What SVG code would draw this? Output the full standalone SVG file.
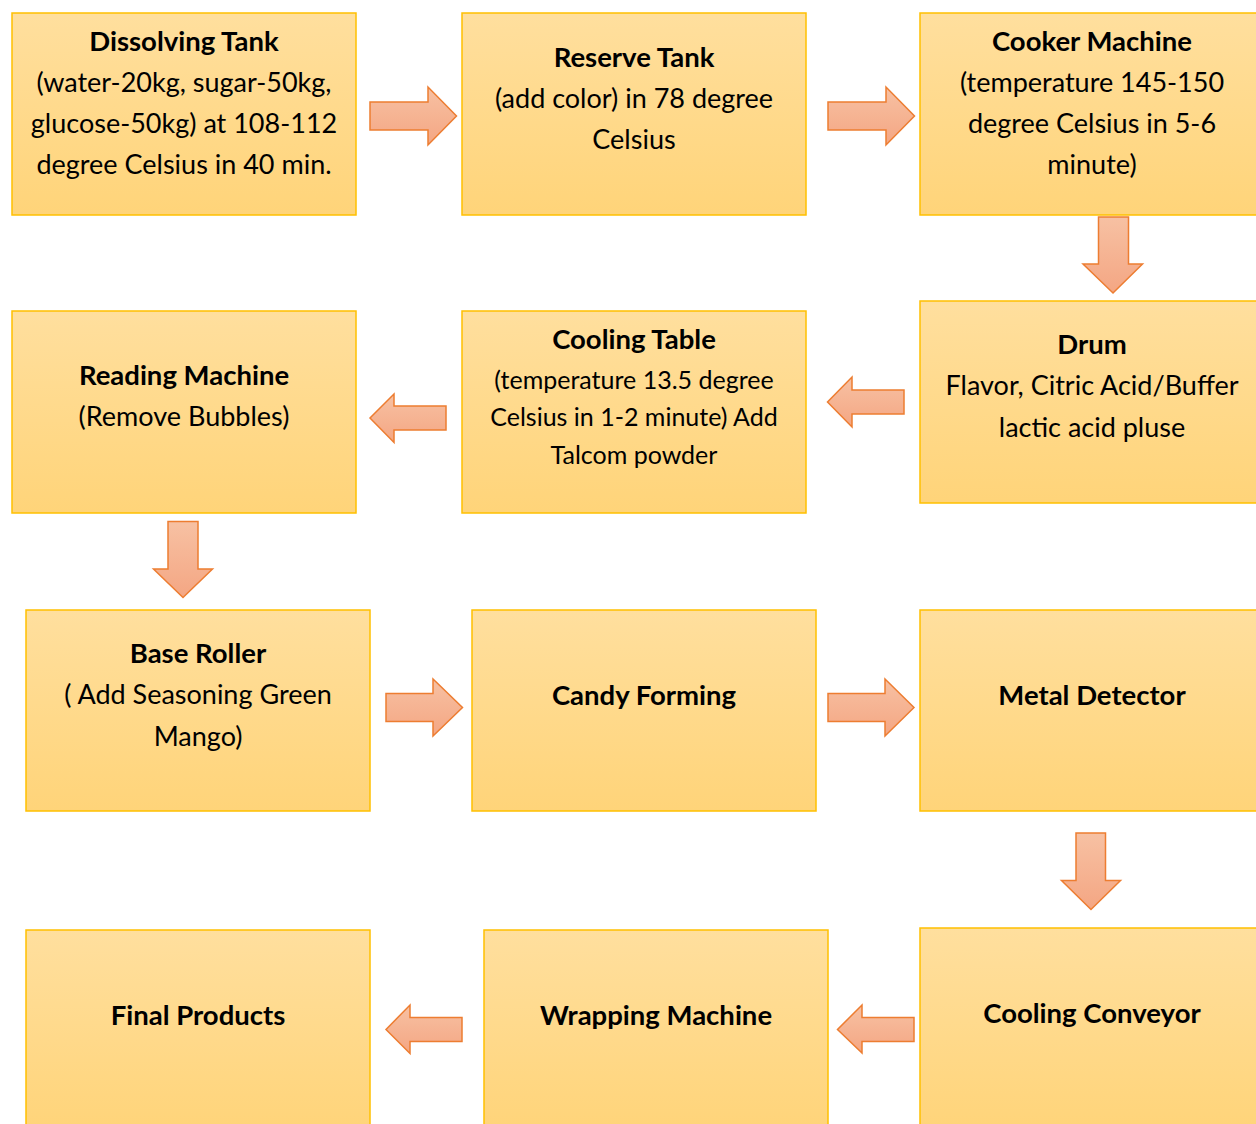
<svg xmlns="http://www.w3.org/2000/svg" width="1256" height="1124" viewBox="0 0 1256 1124">
<defs>
<linearGradient id="boxG" x1="0" y1="0" x2="0" y2="1">
<stop offset="0" stop-color="#FFDF9E"/>
<stop offset="1" stop-color="#FFD479"/>
</linearGradient>
<linearGradient id="arrG" x1="0" y1="0" x2="0" y2="1">
<stop offset="0" stop-color="#F7C1A3"/>
<stop offset="1" stop-color="#F4A683"/>
</linearGradient>
<style>
.box{fill:url(#boxG);stroke:#FFC000;stroke-width:1.5}
.arr{fill:url(#arrG);stroke:#ED7D31;stroke-width:1.5;stroke-linejoin:miter}
text{font-family:Lato,"Liberation Sans",sans-serif;fill:#000;text-anchor:middle}
.t{font-weight:bold;font-size:27.5px}
.b{font-size:27px}
.s{font-size:25px}
</style>
</defs>
<rect width="1256" height="1124" fill="#FFFFFF"/>
<g id="connectors">
<path class="arr" d="M370,102 H428 V87 L456.5,116 L428,145 V130 H370 Z"/>
<path class="arr" d="M828,102 H886 V87 L914.5,116 L886,145 V130 H828 Z"/>
<path class="arr" d="M1098.5,217 H1128.5 V264 H1142.5 L1113,293 L1083,264 H1098.5 Z"/>
<path class="arr" d="M904,390 V414 H852 V427 L827.5,402 L852,377 V390 Z"/>
<path class="arr" d="M446,406 V430 H394 V442.5 L370,418 L394,394 V406 Z"/>
<path class="arr" d="M168,521.5 H198 V569 H212.5 L183,597.5 L153.5,569 H168 Z"/>
<path class="arr" d="M386,693.5 H433 V679 L462.5,707.5 L433,736 V721.5 H386 Z"/>
<path class="arr" d="M828,693.5 H885 V679 L914,707.5 L885,736 V721.5 H828 Z"/>
<path class="arr" d="M1076,833 H1105.5 V880.5 H1120.5 L1091,909.5 L1061.5,880.5 H1076 Z"/>
<path class="arr" d="M914,1017.5 V1041.5 H862 V1053 L837.5,1029.5 L862,1005 V1017.5 Z"/>
<path class="arr" d="M462,1017.5 V1041.5 H410 V1053.5 L386,1029.5 L410,1005 V1017.5 Z"/>
</g>
<g id="dissolving-tank">
<rect class="box" x="12" y="13" width="344" height="202"/>
<text class="t" x="184" y="51">Dissolving Tank</text>
<text class="b" x="184" y="92">(water-20kg, sugar-50kg,</text>
<text class="b" x="184" y="133">glucose-50kg) at 108-112</text>
<text class="b" x="184" y="174">degree Celsius in 40 min.</text>
</g>
<g id="reserve-tank">
<rect class="box" x="462" y="13" width="344" height="202"/>
<text class="t" x="634" y="67">Reserve Tank</text>
<text class="b" x="634" y="108">(add color) in 78 degree</text>
<text class="b" x="634" y="149">Celsius</text>
</g>
<g id="cooker-machine">
<rect class="box" x="920" y="13" width="344" height="202"/>
<text class="t" x="1092" y="51">Cooker Machine</text>
<text class="b" x="1092" y="92">(temperature 145-150</text>
<text class="b" x="1092" y="133">degree Celsius in 5-6</text>
<text class="b" x="1092" y="174">minute)</text>
</g>
<g id="drum">
<rect class="box" x="920" y="301" width="344" height="202"/>
<text class="t" x="1092" y="354">Drum</text>
<text class="b" x="1092" y="395">Flavor, Citric Acid/Buffer</text>
<text class="b" x="1092" y="437">lactic acid pluse</text>
</g>
<g id="cooling-table">
<rect class="box" x="462" y="311" width="344" height="202"/>
<text class="t" x="634" y="349">Cooling Table</text>
<text class="s" x="634" y="389">(temperature 13.5 degree</text>
<text class="s" x="634" y="426">Celsius in 1-2 minute) Add</text>
<text class="s" x="634" y="464">Talcom powder</text>
</g>
<g id="reading-machine">
<rect class="box" x="12" y="311" width="344" height="202"/>
<text class="t" x="184" y="385">Reading Machine</text>
<text class="b" x="184" y="426">(Remove Bubbles)</text>
</g>
<g id="base-roller">
<rect class="box" x="26" y="610" width="344" height="201"/>
<text class="t" x="198" y="663">Base Roller</text>
<text class="b" x="198" y="704">( Add Seasoning Green</text>
<text class="b" x="198" y="746">Mango)</text>
</g>
<g id="candy-forming">
<rect class="box" x="472" y="610" width="344" height="201"/>
<text class="t" x="644" y="705">Candy Forming</text>
</g>
<g id="metal-detector">
<rect class="box" x="920" y="610" width="344" height="201"/>
<text class="t" x="1092" y="705">Metal Detector</text>
</g>
<g id="cooling-conveyor">
<rect class="box" x="920" y="928" width="344" height="204"/>
<text class="t" x="1092" y="1023">Cooling Conveyor</text>
</g>
<g id="wrapping-machine">
<rect class="box" x="484" y="930" width="344" height="202"/>
<text class="t" x="656" y="1025">Wrapping Machine</text>
</g>
<g id="final-products">
<rect class="box" x="26" y="930" width="344" height="202"/>
<text class="t" x="198" y="1025">Final Products</text>
</g>
</svg>
